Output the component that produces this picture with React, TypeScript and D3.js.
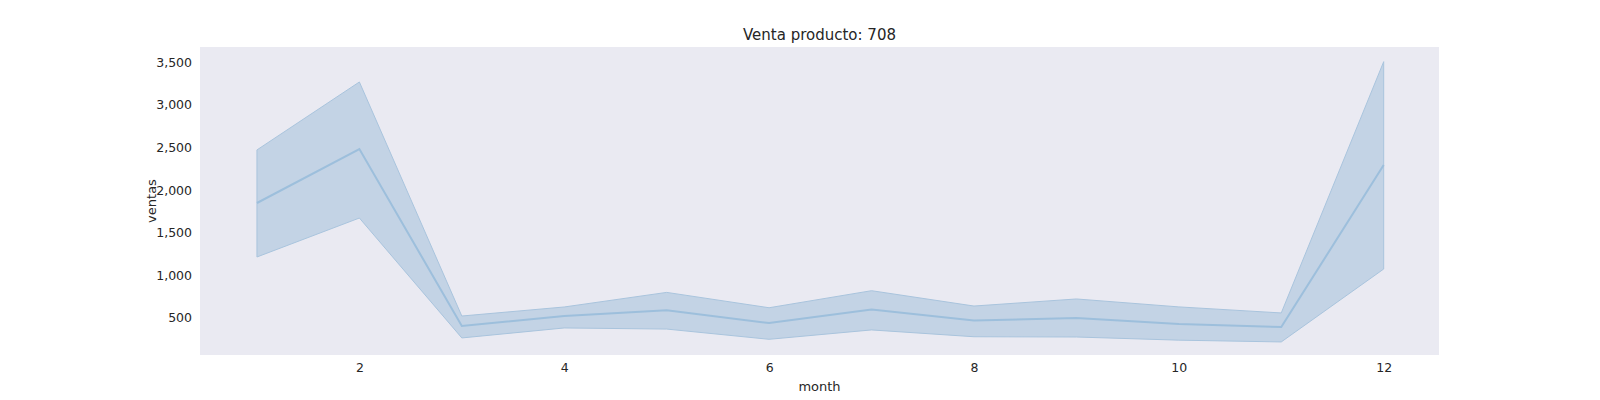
import { useEffect, useRef } from "react";
import * as d3 from "d3";

const months = [1, 2, 3, 4, 5, 6, 7, 8, 9, 10, 11, 12];
const meanSales = [1848, 2481, 406, 523, 590, 440, 600, 470, 500, 430, 394, 2293];
const upperSales = [2470, 3267, 523, 629, 800, 620, 820, 640, 723, 630, 559, 3505];
const lowerSales = [1215, 1672, 266, 383, 370, 250, 360, 280, 277, 240, 219, 1074];
const xTicks = [2, 4, 6, 8, 10, 12];
const yTicks = [500, 1000, 1500, 2000, 2500, 3000, 3500];

const App = () => {
  const ref = useRef<HTMLDivElement | null>(null);

  useEffect(() => {
    if (!ref.current) return;
    const width = 1600;
    const height = 400;
    const left = 200;
    const right = 1439;
    const top = 47;
    const bottom = 355;

    const svg = d3
      .select(ref.current)
      .append("svg")
      .attr("width", width)
      .attr("height", height)
      .style("font-family", "'DejaVu Sans', sans-serif");

    svg.append("rect").attr("width", width).attr("height", height).attr("fill", "#fff");
    svg
      .append("rect")
      .attr("x", left)
      .attr("y", top)
      .attr("width", right - left)
      .attr("height", bottom - top)
      .attr("fill", "#eaeaf2");

    const x = d3.scaleLinear().domain([0.444, 12.54]).range([left, right]);
    const y = d3.scaleLinear().domain([66, 3677]).range([bottom, top]);

    const area = d3
      .area<number>()
      .x((d) => x(d))
      .y0((_, i) => y(lowerSales[i]))
      .y1((_, i) => y(upperSales[i]));
    svg
      .append("path")
      .attr("d", area(months))
      .attr("fill", "#c3d3e5")
      .attr("stroke", "#a9c4dd")
      .attr("stroke-width", 1);

    const line = d3
      .line<number>()
      .x((d) => x(d))
      .y((_, i) => y(meanSales[i]));
    svg
      .append("path")
      .attr("d", line(months))
      .attr("fill", "none")
      .attr("stroke", "#9dbfdc")
      .attr("stroke-width", 2);

    const xAxis = d3.axisBottom(x).tickValues(xTicks).tickSize(0).tickPadding(8);
    const gx = svg.append("g").attr("transform", `translate(0,${bottom})`).call(xAxis);
    const yAxis = d3.axisLeft(y).tickValues(yTicks).tickSize(0).tickPadding(8);
    const gy = svg.append("g").attr("transform", `translate(${left},0)`).call(yAxis);
    [gx, gy].forEach((g) => {
      g.select(".domain").remove();
      g.selectAll("text").attr("fill", "#262626").style("font-size", "12.5px").style("font-family", "'DejaVu Sans', sans-serif");
    });

    svg
      .append("text")
      .attr("x", (left + right) / 2)
      .attr("y", 40)
      .attr("text-anchor", "middle")
      .attr("fill", "#262626")
      .style("font-size", "15px")
      .text("Venta producto: 708");
    svg
      .append("text")
      .attr("x", (left + right) / 2)
      .attr("y", 391)
      .attr("text-anchor", "middle")
      .attr("fill", "#262626")
      .style("font-size", "13px")
      .text("month");
    svg
      .append("text")
      .attr("transform", `translate(156,${(top + bottom) / 2}) rotate(-90)`)
      .attr("text-anchor", "middle")
      .attr("fill", "#262626")
      .style("font-size", "13px")
      .text("ventas");

    return () => {
      svg.remove();
    };
  }, []);

  return <div ref={ref} style={{ position: "absolute", left: 0, top: 0 }}></div>;
};

export default App;
